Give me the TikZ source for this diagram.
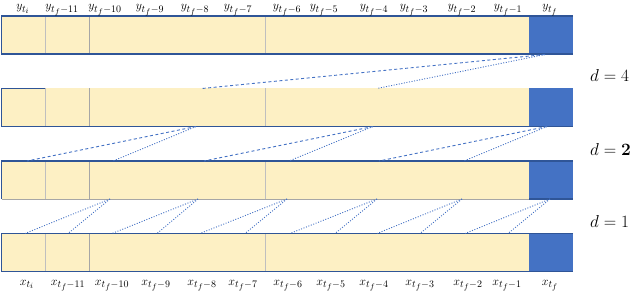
\documentclass[tikz,border=0pt]{standalone}
\usepackage{amsmath}
\DeclareMathSizes{13}{13}{10}{8}
\definecolor{barfill}{HTML}{FDF0C4}
\definecolor{outblue}{HTML}{4472C4}
\definecolor{edgeblue}{HTML}{2F5597}
\definecolor{divgray}{HTML}{BFBFBF}
\definecolor{divdark}{HTML}{A6A6A6}
\tikzset{
  edgeline/.style={draw=edgeblue, line width=1.2pt},
  grayline/.style={draw=divdark, line width=1pt},
  divider/.style={draw=divgray, line width=0.9pt},
  longlink/.style={draw=outblue, line width=0.9pt, dash pattern=on 3pt off 2.5pt},
  shortlink/.style={draw=outblue, line width=0.9pt, dash pattern=on 1pt off 1.6pt},
  toplabel/.style={anchor=base, inner sep=0pt, font=\fontsize{13}{15}\selectfont},
  botlabel/.style={anchor=base, inner sep=0pt, font=\fontsize{13}{15}\selectfont},
  dlabel/.style={anchor=west, inner sep=0pt, font=\fontsize{19}{23}\selectfont},
}
\begin{document}
\begin{tikzpicture}[x=1pt, y=-1pt]
\useasboundingbox (0,0) rectangle (636,294);
% bars
\foreach \t in {16,88.5,161,233.5}{
  \fill[barfill] (1.5,\t) rectangle (529,\t+38);
  \fill[outblue] (529,\t) rectangle (573,\t+38);
  \draw[divider] (45.3,\t) -- (45.3,\t+38);
  \draw[divider, draw=divdark] (89.3,\t) -- (89.3,\t+38);
  \draw[divider] (265.3,\t) -- (265.3,\t+38);
}
% borders bar 1
\draw[edgeline] (573,16) -- (1.5,16) -- (1.5,54) -- (573,54);
% bar 2
\draw[edgeline] (45.3,88.5) -- (1.5,88.5) -- (1.5,126.5) -- (573,126.5);
% bar 3
\draw[edgeline] (573,161) -- (1.5,161) -- (1.5,199);
\draw[grayline] (1.5,199) -- (529,199);
\draw[edgeline] (529,199) -- (573,199);
% bar 4
\draw[edgeline] (573,233.5) -- (1.5,233.5) -- (1.5,271.5) -- (573,271.5);

% top labels
\node[toplabel] (ya) at (23,10) {$y_{t_i}$};
\node[toplabel] (yb) at (62,10) {$y_{t_f-11}$};
\node[toplabel] (yc) at (105,10) {$y_{t_f-10}$};
\node[toplabel] (yd) at (150,10) {$y_{t_f-9}$};
\node[toplabel] (ye) at (195,10) {$y_{t_f-8}$};
\node[toplabel] (yf) at (238,10) {$y_{t_f-7}$};
\node[toplabel] (yg) at (287,10) {$y_{t_f-6}$};
\node[toplabel] (yh) at (324,10) {$y_{t_f-5}$};
\node[toplabel] (yi) at (374,10) {$y_{t_f-4}$};
\node[toplabel] (yj) at (414,10) {$y_{t_f-3}$};
\node[toplabel] (yk) at (462,10) {$y_{t_f-2}$};
\node[toplabel] (yl) at (508,10) {$y_{t_f-1}$};
\node[toplabel] (ym) at (550,10) {$y_{t_f}$};

% bottom labels
\node[botlabel] (xa) at (27,285) {$x_{t_i}$};
\node[botlabel] (xb) at (68,285) {$x_{t_f-11}$};
\node[botlabel] (xc) at (112,285) {$x_{t_f-10}$};
\node[botlabel] (xd) at (156,285) {$x_{t_f-9}$};
\node[botlabel] (xe) at (202,285) {$x_{t_f-8}$};
\node[botlabel] (xf) at (243,285) {$x_{t_f-7}$};
\node[botlabel] (xg) at (288,285) {$x_{t_f-6}$};
\node[botlabel] (xh) at (331,285) {$x_{t_f-5}$};
\node[botlabel] (xi) at (374,285) {$x_{t_f-4}$};
\node[botlabel] (xj) at (420,285) {$x_{t_f-3}$};
\node[botlabel] (xk) at (468,285) {$x_{t_f-2}$};
\node[botlabel] (xl) at (507,285) {$x_{t_f-1}$};
\node[botlabel] (xm) at (550,285) {$x_{t_f}$};

% dilation labels
\node[dlabel] (d4) at (590,76) {$d=4$};
\node[dlabel] (d2) at (590,149) {$d=\mathbf{2}$};
\node[dlabel] (d1) at (590,221) {$d=1$};

% d = 4 connections
\coordinate (s4) at (545,54.5);
\coordinate (p2a) at (202,88.5);
\coordinate (p2b) at (377,88.5);
\draw[longlink] (s4) -- (p2a);
\draw[shortlink] (s4) -- (p2b);

% d = 2 connections
\coordinate (s2a) at (196,126.5);
\coordinate (s2b) at (373,126.5);
\coordinate (s2c) at (547,126.5);
\coordinate (p3a) at (27,161);
\coordinate (p3b) at (113,161);
\coordinate (p3c) at (204,161);
\coordinate (p3d) at (289,161);
\coordinate (p3e) at (379,161);
\coordinate (p3f) at (464,161);
\draw[longlink] (s2a) -- (p3a);
\draw[shortlink] (s2a) -- (p3b);
\draw[longlink] (s2b) -- (p3c);
\draw[shortlink] (s2b) -- (p3d);
\draw[longlink] (s2c) -- (p3e);
\draw[shortlink] (s2c) -- (p3f);

% d = 1 connections
\foreach \s/\a/\b [count=\i] in {110/25/68, 198/112/157, 287/200/245, 377/290/335, 462/377/420, 550/465/508}{
  \coordinate (s1-\i) at (\s,199);
  \coordinate (q1a-\i) at (\a,233.5);
  \coordinate (q1b-\i) at (\b,233.5);
  \draw[shortlink] (s1-\i) -- (q1a-\i);
  \draw[shortlink] (s1-\i) -- (q1b-\i);
}
\end{tikzpicture}
\end{document}
